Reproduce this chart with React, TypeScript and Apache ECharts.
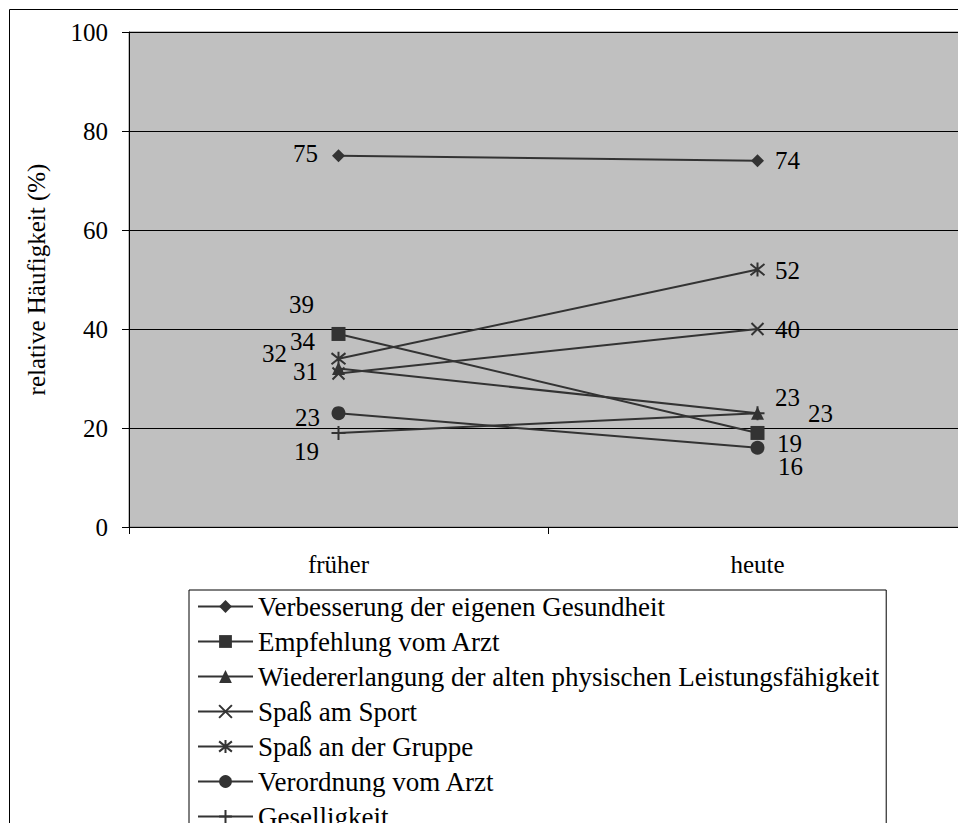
import React, { useEffect, useRef } from "react";
import * as echarts from "echarts";

const categories = ["früher", "heute"];
const seriesNames = [
  "Verbesserung der eigenen Gesundheit",
  "Empfehlung vom Arzt",
  "Wiedererlangung der alten physischen Leistungsfähigkeit",
  "Spaß am Sport",
  "Spaß an der Gruppe",
  "Verordnung vom Arzt",
  "Geselligkeit",
];
const verbesserung = [75, 74];
const empfehlung = [39, 19];
const wiedererlangung = [32, 23];
const spassSport = [31, 40];
const spassGruppe = [34, 52];
const verordnung = [23, 16];
const geselligkeit = [19, 23];
const yTicks = [0, 20, 40, 60, 80, 100];

const seriesValues = [verbesserung, empfehlung, wiedererlangung, spassSport, spassGruppe, verordnung, geselligkeit];

// label placement (pixel offsets from each point), per series, per category
const labelOffsets = [
  [[-33, -2], [30, 0]],
  [[-37, -29], [32, 11]],
  [[-64, -15], [30, -16]],
  [[-33, -2], [30, 0]],
  [[-36, -17], [30, 1]],
  [[-31, 4], [33, 19]],
  [[-32, 19], [63, 0]],
];

const symbols = [
  "diamond",
  "rect",
  "triangle",
  "path://M0,0L20,20M20,0L0,20",
  "path://M2,2L18,18M18,2L2,18M10,0L10,20",
  "circle",
  "path://M10,0L10,20M0,10L20,10",
];
const symbolSizes = [13, 14, 13, 12, 14, 14, 14];
const stroked = [false, false, false, true, true, false, true];

const FONT = "'Liberation Serif', 'Times New Roman', serif";
const FS = 25;
const LFS = 27;
const DARK = "#333333";

export default function App() {
  const ref = useRef<HTMLDivElement>(null);
  useEffect(() => {
    if (!ref.current) return;
    const chart = echarts.init(ref.current, undefined, { renderer: "svg" });
    const series = seriesNames.map((name, si) => ({
      name,
      type: "line",
      symbol: symbols[si],
      symbolSize: symbolSizes[si],
      lineStyle: { color: DARK, width: 2 },
      itemStyle: stroked[si]
        ? { color: DARK, borderColor: DARK, borderWidth: 2 }
        : { color: DARK, borderWidth: 0 },
      emphasis: { disabled: true },
      data: seriesValues[si].map((v, ci) => ({
        value: v,
        label: {
          show: true,
          position: "inside",
          offset: labelOffsets[si][ci],
          formatter: String(v),
          color: "#000",
          fontSize: FS,
          fontFamily: FONT,
        },
      })),
    }));
    chart.setOption({
      animation: false,
      textStyle: { fontFamily: FONT },
      graphic: [
        {
          type: "rect",
          shape: { x: 9.5, y: 9.5, width: 1200, height: 1200 },
          style: { fill: "none", stroke: "#000", lineWidth: 1 },
          silent: true,
        },
      ],
      grid: {
        left: 129,
        top: 32,
        width: 838,
        height: 495,
        show: true,
        backgroundColor: "#c0c0c0",
        borderColor: "#808080",
        borderWidth: 1,
      },
      legend: {
        orient: "vertical",
        left: 189,
        top: 590,
        padding: [3, 7, 6, 8],
        itemWidth: 55,
        itemHeight: 16,
        itemGap: 8,
        borderColor: "#000",
        borderWidth: 1,
        selectedMode: false,
        textStyle: { fontSize: LFS, fontFamily: FONT, color: "#000", lineHeight: 27 },
        data: seriesNames,
      },
      xAxis: {
        type: "category",
        data: categories,
        boundaryGap: true,
        axisLine: { lineStyle: { color: "#000", width: 1 } },
        axisTick: { show: true, length: 7, lineStyle: { color: "#000" } },
        axisLabel: { fontSize: FS, fontFamily: FONT, color: "#000", margin: 25 },
      },
      yAxis: {
        type: "value",
        min: yTicks[0],
        max: yTicks[yTicks.length - 1],
        interval: 20,
        name: "relative Häufigkeit (%)",
        nameLocation: "middle",
        nameGap: 80,
        nameTextStyle: { fontSize: FS, fontFamily: FONT, color: "#000" },
        axisLine: { show: true, lineStyle: { color: "#000", width: 1 } },
        axisTick: { show: true, length: 7, lineStyle: { color: "#000" } },
        axisLabel: { fontSize: FS, fontFamily: FONT, color: "#000", margin: 21 },
        splitLine: { show: true, lineStyle: { color: "#000", width: 1 } },
      },
      series,
    });
    return () => chart.dispose();
  }, []);
  return (
    <div style={{ position: "fixed", left: 0, top: 0, width: "100vw", height: "100vh", overflow: "hidden", background: "#fff" }}>
      <div ref={ref} style={{ width: 1000, height: 1000 }} />
    </div>
  );
}
